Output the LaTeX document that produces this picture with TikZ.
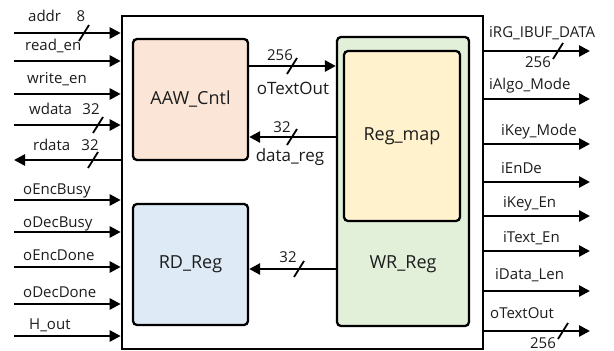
\documentclass[tikz,border=0pt]{standalone}
\usepackage{fontspec}
\setmainfont{Open Sans}
\usetikzlibrary{arrows.meta}
\definecolor{aawfill}{HTML}{FBE5D6}
\definecolor{rdfill}{HTML}{DEEBF7}
\definecolor{wrfill}{HTML}{E2F0D9}
\definecolor{regfill}{HTML}{FFF2CC}
\definecolor{ink}{HTML}{1C1C1C}
\begin{document}
\begin{tikzpicture}[x=1pt,y=-1pt,
  blk/.style={draw=black, line width=2.3pt, rounded corners=4pt, inner sep=0pt,
    text=ink, font=\fontsize{18}{18}\selectfont},
  sig/.style={line width=2.6pt, -{Triangle[length=11pt,width=11pt]}},
  lbl/.style={font=\fontsize{15}{15}\selectfont, text=ink, inner sep=0pt, anchor=base west},
  ilbl/.style={font=\fontsize{17}{17}\selectfont, text=ink, inner sep=0pt, anchor=base},
  num/.style={font=\fontsize{15}{15}\selectfont, text=ink, inner sep=0pt, anchor=base},
  pics/busmark/.style={code={\draw[line width=1.8pt] (-5,8) -- (5,-8);}}
]
\useasboundingbox (0,0) rectangle (614,351);

% outer module
\node[draw=black, line width=2.6pt, minimum width=361pt, minimum height=333pt,
  inner sep=0pt] (top) at (302.5,182.5) {};

% sub-blocks
\node[blk, fill=aawfill, minimum width=115pt, minimum height=121pt] (aaw) at (190.5,99.5) {AAW\_Cntl};
\node[blk, fill=rdfill, minimum width=115pt, minimum height=121pt] (rd) at (190.5,264.5) {RD\_Reg};
\node[blk, fill=wrfill, minimum width=132pt, minimum height=289pt] (wr) at (403,181.5) {};
\node[text=ink, font=\fontsize{18}{18}\selectfont, inner sep=0pt] (wrT) at (403,264) {WR\_Reg};
\node[blk, fill=regfill, minimum width=116pt, minimum height=170pt] (reg) at (402,136) {Reg\_map};

% internal buses
\coordinate (ot) at (0,66);
\draw[sig] (ot -| aaw.east) -- (ot -| wr.west);
\node[num] (otN) at (280,60) {256};
\pic at (292,66) {busmark};
\node[ilbl] (otT) at (293,94) {oTextOut};

\coordinate (dr) at (0,137);
\draw[sig] (dr -| wr.west) -- (dr -| aaw.east);
\node[num] (drN) at (282,132) {32};
\pic at (292,137) {busmark};
\node[ilbl] (drT) at (290,161) {data\_reg};

\coordinate (rr) at (0,269);
\draw[sig] (rr -| wr.west) -- (rr -| rd.east);
\node[num] (rrN) at (288,262) {32};
\pic at (299,269) {busmark};

% left-side ports
\foreach \id/\y/\lx/\ly/\txt in {
    addr/33/28/21/addr, rden/61/25/50/read\_en, wren/94/27/83/write\_en,
    wdata/125/29/114/wdata, encb/200/23/194/oEncBusy, decb/232/23/227/oDecBusy,
    encd/267/23/260/oEncDone, decd/304/23/297/oDecDone, hout/336/29/329/H\_out}{
  \coordinate (in-\id) at (14,\y);
  \draw[sig] (in-\id) -- (in-\id -| top.west);
  \node[lbl] (lb-\id) at (\lx,\ly) {\txt};
}
\coordinate (out-rdata) at (14,160);
\draw[sig] (out-rdata -| top.west) -- (out-rdata);
\node[lbl] (lb-rdata) at (33,150) {rdata};

\node[num] (n-addr) at (81,21) {8};
\pic at (84,33) {busmark};
\node[num] (n-wdata) at (91,114) {32};
\pic at (98,125) {busmark};
\node[num] (n-rdata) at (90,150) {32};
\pic at (93,160) {busmark};

% right-side ports
\foreach \id/\y/\lx/\ly/\txt in {
    ibuf/51/489/37/iRG\_IBUF\_DATA, algo/99/489/89/iAlgo\_Mode,
    kmode/144/501/135/iKey\_Mode, ende/182/501/173/iEnDe,
    keyen/216/503/207/iKey\_En, texten/251/503/242/iText\_En,
    dlen/291/495/279/iData\_Len, tout/331/490/318/oTextOut}{
  \coordinate (o-\id) at (590,\y);
  \draw[sig] (o-\id -| top.east) -- (o-\id);
  \node[lbl] (rl-\id) at (\lx,\ly) {\txt};
}
\node[num] (n-ibuf) at (538,67) {256};
\pic at (558,51) {busmark};
\node[num] (n-tout) at (543,348) {256};
\pic at (563,331) {busmark};
\end{tikzpicture}
\end{document}
